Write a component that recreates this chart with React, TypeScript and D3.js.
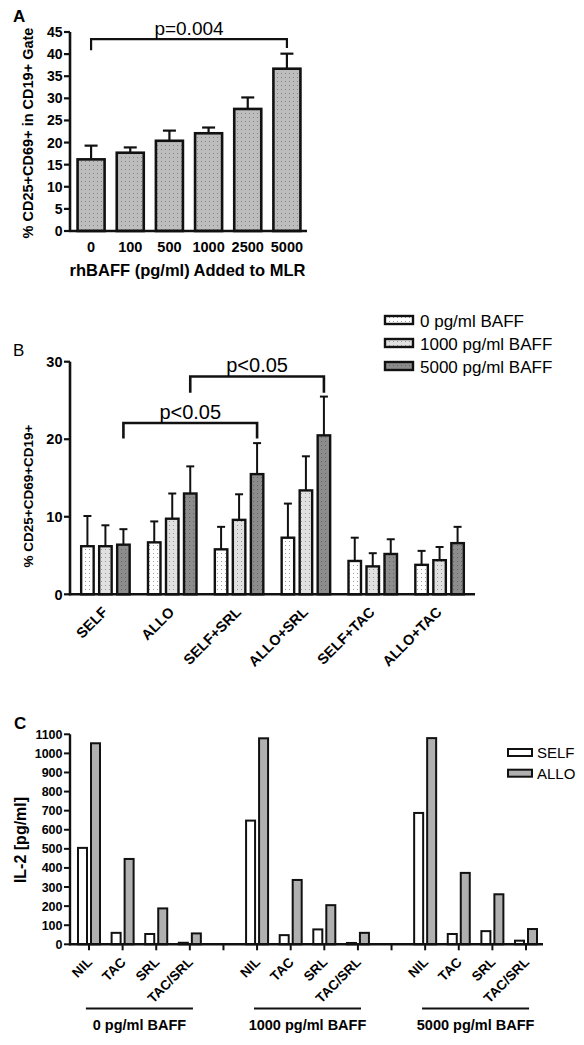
import React from 'react';
import * as d3 from 'd3';

// ---------- Panel A data ----------
const aDoses = ['0', '100', '500', '1000', '2500', '5000'];
const aMeans = [16.2, 17.7, 20.4, 22.1, 27.6, 36.7];
const aErrTops = [19.3, 18.9, 22.7, 23.4, 30.2, 40.1];
const aTicks = [0, 5, 10, 15, 20, 25, 30, 35, 40, 45];
const aBracket = { from: '0', to: '5000', level: 43.4, drop: 2.5, label: 'p=0.004' };

// ---------- Panel B data ----------
const bGroups = ['SELF', 'ALLO', 'SELF+SRL', 'ALLO+SRL', 'SELF+TAC', 'ALLO+TAC'];
const bSeries = ['0 pg/ml BAFF', '1000 pg/ml BAFF', '5000 pg/ml BAFF'];
const bMean0 = [6.2, 6.7, 5.8, 7.3, 4.3, 3.8];
const bMean1000 = [6.2, 9.75, 9.6, 13.4, 3.6, 4.4];
const bMean5000 = [6.4, 13.0, 15.5, 20.5, 5.2, 6.6];
const bErr0 = [10.1, 9.4, 8.7, 11.7, 7.3, 5.6];
const bErr1000 = [8.9, 13.0, 12.9, 17.8, 5.3, 6.1];
const bErr5000 = [8.4, 16.5, 19.5, 25.5, 7.1, 8.7];
const bTicks = [0, 10, 20, 30];
const bBrackets = [
  { from: 'SELF', to: 'SELF+SRL', level: 22.1, drop: 2.0, label: 'p<0.05' },
  { from: 'ALLO', to: 'ALLO+SRL', level: 28.1, drop: 2.1, label: 'p<0.05' },
];

// ---------- Panel C data ----------
const cTreat = ['NIL', 'TAC', 'SRL', 'TAC/SRL'];
const cBaff = ['0 pg/ml BAFF', '1000 pg/ml BAFF', '5000 pg/ml BAFF'];
const cSeries = ['SELF', 'ALLO'];
const cSelf = [505, 60, 54, 8, 648, 48, 78, 7, 688, 54, 69, 19];
const cAllo = [1053, 447, 188, 57, 1079, 337, 205, 60, 1080, 374, 262, 80];
const cTicks = [0, 100, 200, 300, 400, 500, 600, 700, 800, 900, 1000, 1100];

const FONT = 'Arial, "Liberation Sans", Helvetica, sans-serif';

function DotPattern({ id, bg, dot }: { id: string; bg: string; dot: string }) {
  return (
    <pattern id={id} width={4} height={4} patternUnits="userSpaceOnUse">
      <rect width={4} height={4} fill={bg} />
      <rect x={1} y={1} width={1} height={1} fill={dot} />
    </pattern>
  );
}

export default function App() {
  // Panel A scales
  const ax = d3.scaleBand<string>().domain(aDoses).range([71.5, 306.5]).paddingInner(0.31).paddingOuter(0.155);
  const ay = d3.scaleLinear().domain([0, 45]).range([231, 32]);
  const aBw = ax.bandwidth();
  const acx = (d: string) => (ax(d) as number) + aBw / 2;

  // Panel B scales
  const bx = d3.scaleBand<string>().domain(bGroups).range([72, 473]);
  const bInner = d3.scalePoint<string>().domain(bSeries).range([-18, 18]);
  const by = d3.scaleLinear().domain([0, 30]).range([594.3, 361.7]);
  const bcx = (g: string) => (bx(g) as number) + bx.bandwidth() / 2;
  const bMeans = [bMean0, bMean1000, bMean5000];
  const bErrs = [bErr0, bErr1000, bErr5000];
  const bFills = ['url(#bp0)', 'url(#bp1)', 'url(#bp2)'];
  const bBw = 12.5;

  // Panel C scales
  const cSlots: { key: string; group: number; treat: number | null }[] = [];
  cBaff.forEach((g, gi) => {
    cTreat.forEach((t, ti) => cSlots.push({ key: `${g}|${t}`, group: gi, treat: ti }));
    if (gi < cBaff.length - 1) cSlots.push({ key: `gap${gi}`, group: gi, treat: null });
  });
  const cx = d3.scalePoint<string>().domain(cSlots.map((s) => s.key)).range([89, 526]);
  const cy = d3.scaleLinear().domain([0, 1100]).range([944.3, 734.3]);
  const cBw = 9;
  const cOff = d3.scalePoint<string>().domain(cSeries).range([-6.5, 6.5]);
  const cFills = ['#ffffff', '#b0b0b0'];
  const cVals = [cSelf, cAllo];

  const tickFont = { fontFamily: FONT, fontWeight: 700 } as const;

  return (
    <svg width={584} height={1045} style={{ position: 'absolute', left: 0, top: 0, background: '#fff' }}>
      <defs>
        <DotPattern id="ap" bg="#bdbdbd" dot="#858585" />
        <DotPattern id="bp0" bg="#ffffff" dot="#9a9a9a" />
        <DotPattern id="bp1" bg="#e0e0e0" dot="#9a9a9a" />
        <DotPattern id="bp2" bg="#8c8c8c" dot="#646464" />
      </defs>

      {/* ================= Panel A ================= */}
      <text x={13} y={22} fontFamily={FONT} fontWeight={700} fontSize={17}>A</text>
      {aDoses.map((d, i) => (
        <g key={d}>
          <line x1={acx(d)} x2={acx(d)} y1={ay(aMeans[i])} y2={ay(aErrTops[i])} stroke="#111" strokeWidth={2.2} />
          <line x1={acx(d) - 6.5} x2={acx(d) + 6.5} y1={ay(aErrTops[i])} y2={ay(aErrTops[i])} stroke="#111" strokeWidth={2.2} />
          <rect x={ax(d)} y={ay(aMeans[i])} width={aBw} height={ay(0) - ay(aMeans[i])} fill="url(#ap)" stroke="#111" strokeWidth={2.6} />
          <text x={acx(d)} y={252} textAnchor="middle" fontSize={14.5} {...tickFont}>{d}</text>
        </g>
      ))}
      <line x1={70} x2={70} y1={ay(45)} y2={ay(0) + 1} stroke="#111" strokeWidth={2.6} />
      <line x1={69} x2={307} y1={ay(0)} y2={ay(0)} stroke="#111" strokeWidth={2.6} />
      {aTicks.map((t) => (
        <g key={t}>
          <line x1={64} x2={70} y1={ay(t)} y2={ay(t)} stroke="#111" strokeWidth={2.2} />
          <text x={62.5} y={ay(t)} dy="0.36em" textAnchor="end" fontSize={14} {...tickFont}>{t}</text>
        </g>
      ))}
      <text x={187.5} y={276} textAnchor="middle" fontSize={16.5} {...tickFont}>rhBAFF (pg/ml) Added to MLR</text>
      <text transform="translate(33,133) rotate(-90)" textAnchor="middle" fontSize={14.5} {...tickFont}>% CD25+CD69+ in CD19+ Gate</text>
      <path
        d={`M${acx(aBracket.from)},${ay(aBracket.level - aBracket.drop)}V${ay(aBracket.level)}H${acx(aBracket.to)}V${ay(aBracket.level - aBracket.drop * 0.8)}`}
        fill="none" stroke="#111" strokeWidth={2.2}
      />
      <text x={(acx(aBracket.from) + acx(aBracket.to)) / 2} y={ay(aBracket.level) - 4} textAnchor="middle" fontFamily={FONT} fontSize={19}>{aBracket.label}</text>

      {/* ================= Panel B ================= */}
      <text x={13} y={356} fontFamily={FONT} fontSize={17}>B</text>
      {bSeries.map((s, si) => (
        <g key={s}>
          <rect x={385} y={316 + si * 23} width={28} height={8} fill={bFills[si]} stroke="#111" strokeWidth={2.4} />
          <text x={420} y={327 + si * 23} fontFamily={FONT} fontSize={17}>{s}</text>
        </g>
      ))}
      {bGroups.map((g, gi) => (
        <g key={g}>
          {bSeries.map((s, si) => {
            const x = bcx(g) + (bInner(s) as number);
            const m = bMeans[si][gi];
            const e = bErrs[si][gi];
            return (
              <g key={s}>
                <line x1={x} x2={x} y1={by(m)} y2={by(e)} stroke="#111" strokeWidth={2} />
                <line x1={x - 4} x2={x + 4} y1={by(e)} y2={by(e)} stroke="#111" strokeWidth={2} />
                <rect x={x - bBw / 2} y={by(m)} width={bBw} height={by(0) - by(m)} fill={bFills[si]} stroke="#111" strokeWidth={2.4} />
              </g>
            );
          })}
          <text transform={`translate(${bcx(g) + 3},${613}) rotate(-45)`} textAnchor="end" fontSize={14.5} {...tickFont}>{g}</text>
        </g>
      ))}
      <line x1={70} x2={70} y1={by(30)} y2={by(0) + 1} stroke="#111" strokeWidth={2.6} />
      <line x1={69} x2={475} y1={by(0)} y2={by(0)} stroke="#111" strokeWidth={2.6} />
      {bTicks.map((t) => (
        <g key={t}>
          <line x1={64} x2={70} y1={by(t)} y2={by(t)} stroke="#111" strokeWidth={2.2} />
          <text x={62.5} y={by(t)} dy="0.36em" textAnchor="end" fontSize={14.5} {...tickFont}>{t}</text>
        </g>
      ))}
      <text transform="translate(33,496) rotate(-90)" textAnchor="middle" fontSize={13.5} {...tickFont}>% CD25+CD69+CD19+</text>
      {bBrackets.map((b, i) => {
        const x1 = bcx(b.from) + (bInner(bSeries[2]) as number);
        const x2 = bcx(b.to) + (bInner(bSeries[2]) as number);
        return (
          <g key={i}>
            <path d={`M${x1},${by(b.level - b.drop)}V${by(b.level)}H${x2}V${by(b.level - b.drop)}`} fill="none" stroke="#111" strokeWidth={2.6} />
            <text x={(x1 + x2) / 2} y={by(b.level) - 4} textAnchor="middle" fontFamily={FONT} fontSize={20}>{b.label}</text>
          </g>
        );
      })}

      {/* ================= Panel C ================= */}
      <text x={14} y={729} fontFamily={FONT} fontWeight={700} fontSize={17}>C</text>
      {cSeries.map((s, si) => (
        <g key={s}>
          <rect x={508} y={749 + si * 20.7} width={24} height={7} fill={cFills[si]} stroke="#111" strokeWidth={2} />
          <text x={537} y={758 + si * 20.7} fontFamily={FONT} fontSize={15}>{s}</text>
        </g>
      ))}
      {cSlots.map((slot) => {
        const x = cx(slot.key) as number;
        return (
          <g key={slot.key}>
            <line x1={x} x2={x} y1={cy(0)} y2={cy(0) + 6} stroke="#111" strokeWidth={2} />
            {slot.treat !== null && (
              <>
                {cSeries.map((s, si) => {
                  const v = cVals[si][slot.group * cTreat.length + slot.treat!];
                  const bx0 = x + (cOff(s) as number) - cBw / 2;
                  return (
                    <rect key={s} x={bx0} y={cy(v)} width={cBw} height={cy(0) - cy(v)} fill={cFills[si]} stroke="#111" strokeWidth={2} />
                  );
                })}
                <text transform={`translate(${x + 4},${963}) rotate(-45)`} textAnchor="end" fontSize={13.5} {...tickFont}>{cTreat[slot.treat]}</text>
              </>
            )}
          </g>
        );
      })}
      <line x1={70} x2={70} y1={cy(1100)} y2={cy(0) + 1} stroke="#111" strokeWidth={2.4} />
      <line x1={69} x2={543} y1={cy(0)} y2={cy(0)} stroke="#111" strokeWidth={2.4} />
      {cTicks.map((t) => (
        <g key={t}>
          <line x1={64} x2={70} y1={cy(t)} y2={cy(t)} stroke="#111" strokeWidth={2} />
          <text x={62.5} y={cy(t)} dy="0.36em" textAnchor="end" fontSize={12.5} {...tickFont}>{t}</text>
        </g>
      ))}
      <text transform="translate(26,840) rotate(-90)" textAnchor="middle" fontSize={16} {...tickFont}>IL-2 [pg/ml]</text>
      {cBaff.map((g, gi) => {
        const first = cx(`${g}|${cTreat[0]}`) as number;
        const last = cx(`${g}|${cTreat[cTreat.length - 1]}`) as number;
        const mid = (first + last) / 2;
        return (
          <g key={g}>
            <line x1={mid - 53.5} x2={mid + 53.5} y1={1008.5} y2={1008.5} stroke="#111" strokeWidth={2.2} />
            <text x={mid} y={1030} textAnchor="middle" fontSize={14.5} {...tickFont}>{g}</text>
          </g>
        );
      })}
    </svg>
  );
}
